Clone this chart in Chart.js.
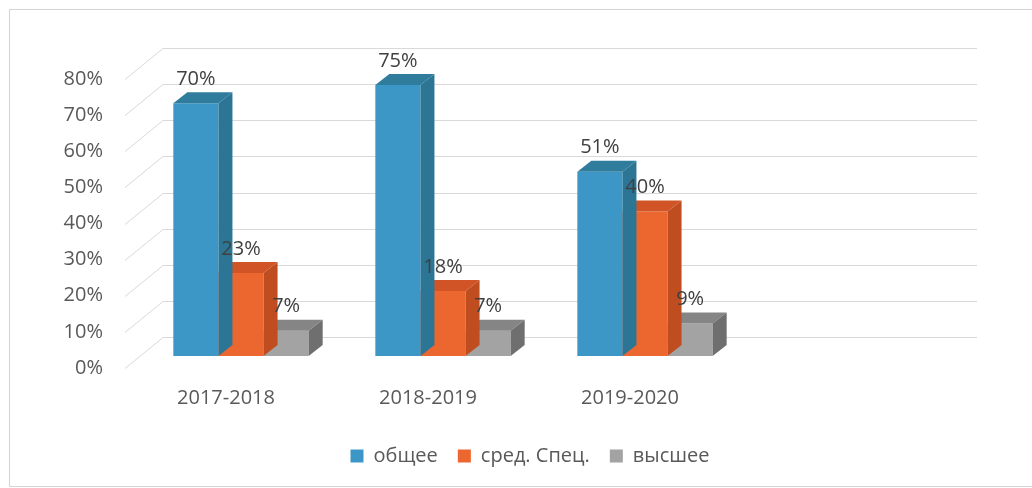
<!DOCTYPE html>
<html>
<head>
<meta charset="utf-8">
<script src="https://cdn.jsdelivr.net/npm/chart.js@4"></script>
<style>
  html, body { margin: 0; padding: 0; background: #fff; }
  #wrap { width: 1032px; height: 488px; }
</style>
</head>
<body>
<div id="wrap"><canvas id="chart" width="1032" height="488"></canvas></div>
<script>
// values in percent
const categories = ["2017-2018", "2018-2019", "2019-2020", ""];
const general = [70, 75, 51, null];
const secondary = [23, 18, 40, null];
const higher = [7, 7, 9, null];

const seriesNames = ["общее", "сред. Спец.", "высшее"];
const yMin = 0;
const yMax = 80;
const yStep = 10;

const FONT = "'Open Sans', 'DejaVu Sans', sans-serif";

// depth of bars (oblique projection)
const BAR_DX = 14, BAR_DY = -11;

// Frame around the whole picture (right side runs off the image)
const framePlugin = {
  id: "frame",
  beforeDraw(chart) {
    const ctx = chart.ctx;
    ctx.save();
    ctx.fillStyle = "#fff";
    ctx.fillRect(0, 0, chart.width, chart.height);
    ctx.strokeStyle = "#d4d4d4";
    ctx.lineWidth = 1;
    ctx.strokeRect(9.5, 9.5, 1040, 477);
    ctx.restore();
  },
};

// Legend sits a bit right of the plot centre in the original
const legendShift = {
  id: "legendShift",
  afterLayout(chart) {
    if (!chart.legend) return;
    chart.legend.left += 56;
    chart.legend.right += 56;
  },
};

// Back wall gridlines plus slanted side lines
const wallPlugin = {
  id: "wall",
  beforeDatasetsDraw(chart) {
    const ctx = chart.ctx;
    const y = chart.scales.y;
    const area = chart.chartArea;
    ctx.save();
    ctx.strokeStyle = "#d9d9d9";
    ctx.lineWidth = 1;
    y.ticks.forEach((t) => {
      const yb = Math.round(y.getPixelForValue(t.value)) + 0.5;
      ctx.beginPath();
      ctx.moveTo(area.left - 15, yb + 12);
      ctx.lineTo(area.left + 23, yb - 19);
      ctx.lineTo(area.right + 29, yb - 19);
      ctx.stroke();
    });
    ctx.restore();
  },
};

// Top and side faces of each bar
const depthPlugin = {
  id: "depth",
  afterDatasetDraw(chart, args) {
    const ctx = chart.ctx;
    const ds = chart.data.datasets[args.index];
    ctx.save();
    args.meta.data.forEach((el, i) => {
      if (ds.data[i] === null || !isFinite(el.y)) return;
      const l = el.x - el.width / 2;
      const r = el.x + el.width / 2;
      const t = el.y;
      const b = el.base;
      ctx.fillStyle = ds.topColor;
      ctx.beginPath();
      ctx.moveTo(l, t);
      ctx.lineTo(r, t);
      ctx.lineTo(r + BAR_DX, t + BAR_DY);
      ctx.lineTo(l + BAR_DX, t + BAR_DY);
      ctx.closePath();
      ctx.fill();
      ctx.fillStyle = ds.sideColor;
      ctx.beginPath();
      ctx.moveTo(r, t);
      ctx.lineTo(r + BAR_DX, t + BAR_DY);
      ctx.lineTo(r + BAR_DX, b + BAR_DY);
      ctx.lineTo(r, b);
      ctx.closePath();
      ctx.fill();
    });
    ctx.restore();
  },
};

// Value labels above bars
const valuePlugin = {
  id: "values",
  afterDatasetsDraw(chart) {
    const ctx = chart.ctx;
    ctx.save();
    ctx.font = "20px " + FONT;
    ctx.fillStyle = "#404040";
    ctx.textAlign = "center";
    ctx.textBaseline = "middle";
    chart.data.datasets.forEach((ds, di) => {
      chart.getDatasetMeta(di).data.forEach((el, i) => {
        if (ds.data[i] === null) return;
        ctx.fillText(ds.data[i] + "%", el.x, el.y - 24);
      });
    });
    ctx.restore();
  },
};

new Chart(document.getElementById("chart"), {
  type: "bar",
  data: {
    labels: categories,
    datasets: [
      {
        label: seriesNames[0],
        data: general,
        backgroundColor: "#3c96c6",
        sideColor: "#2c7595",
        topColor: "#2f7c9d",
      },
      {
        label: seriesNames[1],
        data: secondary,
        backgroundColor: "#ec6630",
        sideColor: "#c04d1f",
        topColor: "#d15426",
      },
      {
        label: seriesNames[2],
        data: higher,
        backgroundColor: "#a3a3a3",
        sideColor: "#6f6f6f",
        topColor: "#858585",
      },
    ],
  },
  options: {
    responsive: false,
    animation: false,
    devicePixelRatio: 1,
    layout: {
      padding: { left: 0, right: 84, top: 67, bottom: 12 },
    },
    datasets: {
      bar: {
        categoryPercentage: 0.67,
        barPercentage: 1,
        borderWidth: 0,
      },
    },
    plugins: {
      legend: {
        display: true,
        position: "bottom",
        labels: {
          boxWidth: 13,
          boxHeight: 13,
          padding: 20,
          color: "#595959",
          font: { family: FONT, size: 20 },
        },
      },
      tooltip: { enabled: false },
    },
    scales: {
      x: {
        grid: { display: false },
        border: { display: false },
        ticks: {
          color: "#595959",
          font: { family: FONT, size: 20 },
          padding: 22,
          labelOffset: -15,
          maxRotation: 0,
        },
        afterFit: (s) => {
          s.height = 70;
        },
      },
      y: {
        min: yMin,
        max: yMax,
        grid: { display: false },
        border: { display: false },
        ticks: {
          stepSize: yStep,
          color: "#595959",
          font: { family: FONT, size: 20 },
          padding: 29,
          labelOffset: 12,
          callback: (v) => v + "%",
        },
        afterFit: (s) => {
          s.width = 140;
        },
      },
    },
  },
  plugins: [framePlugin, legendShift, wallPlugin, depthPlugin, valuePlugin],
});
</script>
</body>
</html>
